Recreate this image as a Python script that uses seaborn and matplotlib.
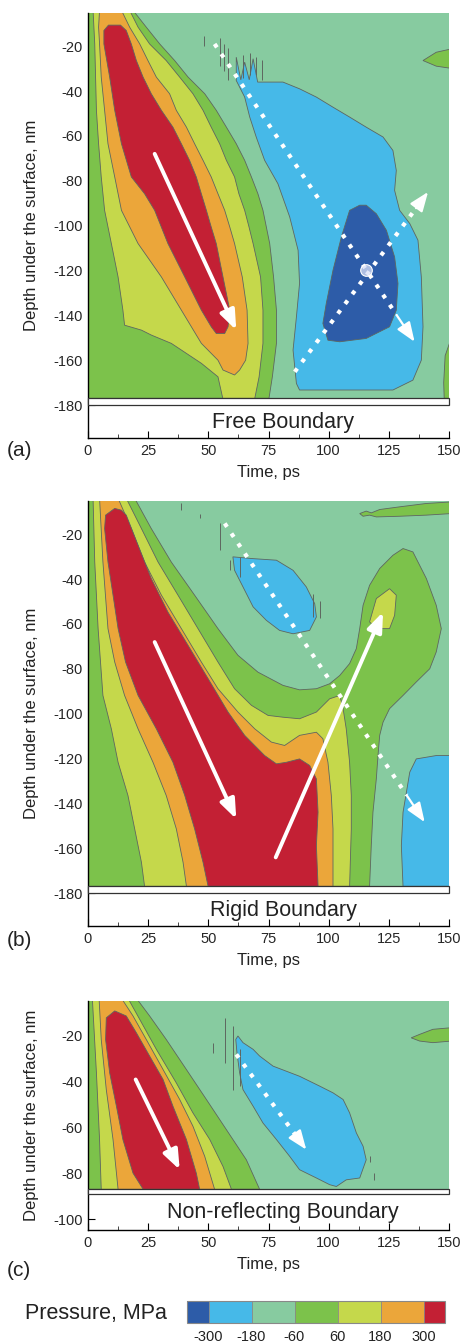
import matplotlib
matplotlib.use("Agg")
import matplotlib.pyplot as plt
import matplotlib as mpl
import seaborn as sns
from matplotlib.colors import ListedColormap, BoundaryNorm
from matplotlib.patches import Rectangle
from matplotlib.ticker import MultipleLocator

sns.set_theme(style="white")
plt.rcParams['font.family'] = ['Liberation Sans', 'DejaVu Sans']
plt.rcParams['axes.unicode_minus'] = False

# pressure classes (MPa) and their colours
levels = [-360, -300, -180, -60, 60, 180, 300, 360]
tick_levels = [-300, -180, -60, 60, 180, 300]
level_colors = ['#2d5ca8', '#46b9e8', '#87cba0', '#7cc24b', '#c5d84b', '#eba63a', '#c32034']
DBLUE, LBLUE, MINT, GREEN, YGREEN, ORANGE, RED = range(7)

# ---------------- (a) free boundary: contour outlines (time ps, depth nm) ----------------
a_green_t = [-1, 18.7, 24.2, 29.8, 36.0, 41.6, 48.5, 53.3, 57.5, 61.6, 65.1, 67.9, 70.6, 72.7, 74.1, 75.5, 77.1, 78.3, 78.3, 76.6, 75.2, -1]
a_green_d = [-4, -4, -11.5, -19.0, -26.4, -33.8, -41.2, -48.6, -56.1, -63.5, -70.9, -78.3, -85.8, -93.2, -100.6, -108.0, -122.9, -137.7, -152.5, -167.4, -177, -177]

a_yg_t = [2.1, 2.8, 3.5, 4.4, 5.5, 6.9, 9.7, 12.5, 14.5, 15.2, 22.2, 26.3, 34.6, 47.1, 54.0, 56.0,
          69.3, 71.1, 72.7, 72.7, 71.7, 68.6, 66.9, 65.1, 62.7, 60.9, 57.5, 54.7, 51.2, 47.8, 43.6, 38.1, 32.5, 25.6, 20.8, 17.3]
a_yg_d = [-4, -19.0, -48.6, -63.5, -78.3, -93.2, -108.0, -122.9, -137.7, -144.4, -146.6, -148.8, -152.5, -161.4, -167.4, -177,
          -177, -167.4, -152.5, -137.7, -122.9, -108.0, -100.6, -93.2, -85.8, -78.3, -70.9, -63.5, -56.1, -48.6, -41.2, -33.8, -26.4, -19.0, -11.5, -4]

a_orange_t = [4.8, 4.4, 4.8, 5.5, 6.9, 8.3, 11.1, 13.9, 20.8, 30.5, 38.8, 47.1, 54.0, 56.1, 60.9,
              63.0, 65.5, 66.5, 66.1, 64.1, 60.9, 58.9, 56.8, 54.0, 51.2, 47.8, 44.3, 40.9, 36.7, 33.9, 28.4, 24.9, 21.5, 17.3, 13.9]
a_orange_d = [-4, -11.5, -19.0, -33.8, -48.6, -63.5, -78.3, -93.2, -108.0, -122.9, -137.7, -152.5, -160.0, -164.4, -166.6,
              -164.4, -160.0, -152.5, -137.7, -122.9, -108.0, -100.6, -93.2, -85.8, -78.3, -70.9, -63.5, -56.1, -48.6, -41.2, -33.8, -26.4, -19.0, -11.5, -4]

a_red_t = [8.5, 6.6, 6.6, 9.0, 11.1, 13.9, 18.0, 23.5, 27.7, 33.2, 40.2, 47.1, 51.2, 53.3,
           56.8, 58.2, 58.9, 57.5, 56.1, 53.3, 51.2, 49.2, 47.1, 45.0, 42.2, 38.8, 35.3, 30.5, 26.3, 22.9, 20.1, 18.0, 15.9, 13.5]
a_red_d = [-10.6, -13.0, -19.0, -33.8, -48.6, -63.5, -78.3, -85.8, -93.2, -108.0, -122.9, -137.7, -145.1, -148.1,
           -148.1, -145.1, -137.7, -130.3, -122.9, -108.0, -100.6, -93.2, -85.8, -78.3, -70.9, -63.5, -56.1, -48.6, -41.2, -33.8, -26.4, -19.0, -13.0, -10.6]

a_lblue_t = [61.6, 65.1, 67.2, 69.9, 73.4, 78.9, 83.8, 87.3, 87.9, 86.6, 85.2, 86.6, 87.9,
             126.7, 135.0, 138.5, 139.2, 138.5, 137.1, 133.7, 129.5, 127.4, 128.1, 126.7, 122.6, 115.6, 108.7,
             101.8, 94.9, 87.9, 81.0, 70.5, 68.6, 67.0, 65.1, 63.5, 61.6]
a_lblue_d = [-35.3, -42.7, -51.6, -60.5, -70.9, -81.3, -96.1, -111.0, -125.8, -140.7, -155.5, -170.4, -173.3,
             -173.3, -168.9, -160.0, -145.1, -122.9, -106.5, -99.1, -93.2, -84.3, -75.4, -66.5, -60.5, -56.1, -51.6,
             -47.2, -42.7, -39.0, -36.0, -36.0, -25.6, -35.0, -27.1, -35.0, -24.9]

a_dblue_t = [112.9, 108.7, 105.3, 101.8, 99.0, 97.6, 99.7, 104.6, 115.6, 125.3, 128.1, 128.8, 127.4, 124.0, 119.8, 115.6]
a_dblue_d = [-90.9, -93.2, -105.0, -119.9, -134.7, -143.6, -151.1, -151.8, -150.3, -145.1, -137.7, -125.8, -114.0, -102.1, -94.7, -90.9]

a_gblob1_t = [139.2, 144.7, 151, 151, 144.7]
a_gblob1_d = [-26.4, -22.7, -21.2, -29.9, -28.9]
a_gblob2_t = [151, 148.4, 147.8, 148.0, 151]
a_gblob2_d = [-150.0, -158.0, -170.0, -177, -177]

# thin noisy contour fragments next to the tensile zone
a_spike_t = [48.2, 54.7, 56.5, 58.3, 64.5, 67.5, 70.0, 72.5]
a_spike_top = [-15.5, -16.5, -19.0, -21.0, -24.0, -23.0, -25.0, -26.0]
a_spike_bot = [-20.0, -29.0, -31.0, -35.0, -34.0, -33.0, -33.0, -35.0]

# ---------------- (b) rigid boundary ----------------
b_green_t = [-1, 19.4, 26.3, 34.6, 44.3, 54.0, 62.3, 70.6, 81.0, 87.9, 94.9, 100.4, 104.6, 108.7, 111.5, 112.9, 114.3,
             117.0, 121.2, 126.7, 130.9, 135.0, 140.6, 144.7, 146.8, 144.7, 142.0, 136.4, 130.9, 125.3, 122.6, 121.2,
             120.5, 119.8, 118.4, 117.7, 117.0, -1]
b_green_d = [-4, -4, -17.5, -32.4, -47.2, -62.1, -74.0, -81.5, -87.4, -89.4, -88.9, -86.7, -83.0, -77.7, -71.0, -62.1, -51.7,
             -42.8, -35.3, -29.4, -26.4, -27.9, -39.8, -51.7, -62.1, -72.5, -80.0, -85.9, -91.9, -97.8, -103.8, -109.7,
             -118.7, -129.1, -144.0, -158.9, -177, -177]

b_yg_t = [2.1, 2.8, 4.2, 6.2, 9.7, 12.5, 16.6, 19.4, 22.2, 23.5, 108.7, 109.4, 109.4, 108.7, 107.3, 106.0, 104.6,
          100.4, 94.9, 87.9, 81.0, 74.8, 67.9, 60.9, 54.0, 45.7, 37.4, 29.1, 22.2, 15.9]
b_yg_d = [-4, -32.4, -62.1, -91.9, -106.8, -121.7, -136.5, -151.4, -166.3, -177, -177, -151.4, -136.5, -121.7, -106.8, -97.8, -91.9,
          -93.4, -99.3, -102.3, -101.6, -100.8, -96.3, -88.9, -77.0, -62.1, -47.2, -32.4, -17.5, -4]

b_orange_t = [4.8, 6.2, 8.3, 11.1, 15.2, 20.8, 27.0, 32.5, 36.7, 39.5, 40.9, 101.8, 101.8, 101.1, 99.7, 97.6, 94.9,
              87.9, 81.7, 76.2, 69.3, 62.3, 54.0, 47.1, 38.8, 30.5, 23.5, 18.0, 12.5]
b_orange_d = [-4, -32.4, -62.1, -77.0, -91.9, -106.8, -121.7, -136.5, -151.4, -166.3, -177, -177, -151.4, -136.5, -121.7, -111.2, -108.3,
              -109.7, -114.2, -112.7, -106.8, -99.3, -88.9, -77.0, -62.1, -47.2, -32.4, -17.5, -4]

b_red_t = [11.1, 7.3, 6.9, 8.3, 10.4, 12.5, 15.6, 20.8, 28.4, 35.3, 40.2, 44.3, 47.8, 49.9, 95.6, 94.9, 95.6, 94.9,
           92.1, 87.9, 82.4, 78.3, 73.4, 65.1, 58.2, 49.9, 41.6, 33.2, 26.3, 20.8, 15.9, 13.9]
b_red_d = [-8.5, -11.5, -17.5, -32.4, -47.2, -62.1, -77.0, -91.9, -106.8, -121.7, -136.5, -151.4, -166.3, -177, -177, -158.9, -144.0, -129.1,
           -123.1, -120.2, -121.7, -122.4, -118.7, -109.7, -99.3, -84.4, -69.6, -54.7, -39.8, -24.9, -11.5, -9.3]

b_lblue1_t = [60.2, 68.6, 78.3, 85.2, 90.7, 94.2, 94.9, 92.1, 85.2, 79.6, 74.1, 68.6, 64.4, 60.9]
b_lblue1_d = [-30.1, -30.9, -31.6, -36.1, -43.5, -51.0, -56.9, -62.9, -64.4, -62.9, -58.4, -52.4, -43.5, -36.1]
b_lblue2_t = [136.4, 144.7, 151, 151, 130.9, 130.2, 130.9, 133.7]
b_lblue2_d = [-120.2, -118.7, -118.7, -177, -177, -158.9, -144.0, -126.1]
b_gblob_t = [112.9, 115.6, 117.7, 121.2, 129.5, 140.6, 151, 151, 140.6, 129.5, 119.8, 117.0, 114.3]
b_gblob_d = [-10.8, -9.7, -10.5, -9.0, -7.8, -6.3, -5.6, -10.8, -11.5, -12.0, -12.3, -11.5, -12.0]
b_ygblob_t = [117.0, 119.8, 125.3, 128.1, 127.4, 125.3, 119.8]
b_ygblob_d = [-59.1, -48.7, -44.3, -47.2, -56.2, -62.1, -62.1]

b_spike_t = [38.8, 46.4, 54.7, 58.9, 63.0, 93.5, 96.3]
b_spike_top = [-6.0, -11.0, -15.0, -31.6, -30.0, -46.5, -50.0]
b_spike_bot = [-9.0, -13.0, -27.0, -36.0, -39.0, -57.0, -57.5]

# ---------------- (c) non-reflecting boundary ----------------
c_green_t = [-1, 20.1, 25.6, 32.5, 40.9, 49.2, 57.5, 65.8, 71.3, -1]
c_green_d = [-4, -4, -11.7, -21.9, -35.0, -48.0, -61.1, -74.2, -87, -87]
c_yg_t = [1.8, 3.5, 4.8, 5.5, 59.6, 56.1, 50.6, 43.6, 36.7, 28.4, 21.5, 16.6]
c_yg_d = [-4, -36.4, -65.4, -87, -87, -77.1, -65.4, -53.8, -40.8, -26.2, -13.2, -4]
c_orange_t = [4.6, 5.5, 7.6, 10.4, 12.5, 52.6, 48.5, 43.6, 38.1, 31.2, 24.2, 18.7, 13.9]
c_orange_d = [-4, -21.9, -43.7, -65.4, -87, -87, -72.7, -59.6, -48.0, -35.0, -21.9, -11.7, -4]
c_red_t = [11.1, 7.6, 7.3, 9.0, 11.8, 14.5, 18.7, 22.9, 46.4, 45.0, 40.9, 35.3, 31.2, 25.6, 20.1, 15.9]
c_red_d = [-9.5, -12.5, -21.9, -36.4, -50.9, -65.4, -80.0, -87, -87, -80.0, -65.4, -50.9, -39.3, -29.1, -19.0, -11.7]
c_lblue_t = [62.3, 64.4, 68.6, 71.3, 76.9, 82.4, 87.9, 96.3, 101.8, 106.0, 108.7, 111.5, 114.3, 115.6, 112.9, 107.3,
             103.2, 100.4, 94.9, 87.9, 83.8, 78.3, 72.7, 68.6, 64.4, 63.0, 61.9, 61.4]
c_lblue_d = [-20.4, -23.3, -26.2, -29.1, -33.5, -35.7, -37.9, -42.2, -45.1, -48.0, -53.8, -62.5, -68.3, -74.2, -82.1, -82.9,
             -85.8, -85.0, -82.1, -78.5, -72.7, -65.4, -58.2, -50.9, -43.7, -36.4, -27.7, -21.9]
c_gblob_t = [134.3, 137.8, 143.3, 151, 151, 143.3, 137.8]
c_gblob_d = [-21.2, -19.7, -17.5, -16.8, -22.6, -23.3, -22.6]

c_spike_t = [51.9, 56.8, 60.2, 63.0, 117.0, 119.0]
c_spike_top = [-23.3, -12.5, -16.0, -26.0, -72.7, -80.0]
c_spike_bot = [-27.7, -32.0, -43.7, -42.0, -75.0, -83.0]

# arrows: (t0, d0, t1, d1)
a_solid = [(27.7, -68.0, 61.6, -146.6)]
a_dotted = [(52.6, -19.0, 135.7, -151.8), (85.9, -165.2, 141.3, -85.0)]
a_sphere = (115.6, -119.9)
b_solid = [(27.7, -68.1, 61.6, -147.0), (78.0, -164.1, 122.6, -54.7)]
b_dotted = [(56.8, -15.2, 139.9, -148.4)]
c_solid = [(19.8, -39.3, 38.1, -78.5)]
c_dotted = [(61.6, -28.4, 90.7, -69.8)]

x_ticks = [0, 25, 50, 75, 100, 125, 150]
yticks_ab = [-20, -40, -60, -80, -100, -120, -140, -160, -180]
yticks_c = [-20, -40, -60, -80, -100]

W, H = 463, 1343
fig = plt.figure(figsize=(W / 100, H / 100), dpi=100)
fig.patch.set_facecolor('white')

edge = '#5e6660'


def region(ax, t, d, k):
    ax.fill(t, d, facecolor=level_colors[k], edgecolor=edge, lw=0.6, zorder=1)


def spikes(ax, t, top, bot):
    ax.vlines(t, bot, top, color=edge, lw=0.7, zorder=1.5)


def solid_arrow(ax, t0, d0, t1, d1):
    ax.annotate('', xy=(t1, d1), xytext=(t0, d0),
                arrowprops=dict(arrowstyle='-|>,head_length=0.9,head_width=0.35', color='white',
                                lw=2.8, mutation_scale=13, shrinkA=0, shrinkB=0), zorder=4)


def dotted_arrow(ax, t0, d0, t1, d1):
    tm, dm = t1 - 0.09 * (t1 - t0), d1 - 0.09 * (d1 - d0)
    ax.plot([t0, tm], [d0, dm], color='white', lw=3, linestyle=(0, (1, 1.9)),
            dash_capstyle='butt', zorder=4)
    ax.annotate('', xy=(t1, d1), xytext=(tm, dm),
                arrowprops=dict(arrowstyle='-|>,head_length=0.9,head_width=0.35', color='white',
                                lw=1.6, mutation_scale=13, shrinkA=0, shrinkB=0), zorder=4)


def panel(rect, ylim, yticks, field_bottom, bar_h, text, text_d):
    ax = fig.add_axes(rect)
    ax.set_facecolor('white')
    ax.fill([-1, 151, 151, -1], [field_bottom, field_bottom, -4, -4], color=level_colors[MINT], lw=0, zorder=0.5)
    ax.set_xlim(0, 150)
    ax.set_ylim(ylim, -5.2)
    ax.set_xticks(x_ticks)
    ax.set_yticks(yticks)
    ax.set_yticklabels([str(v) for v in yticks])
    ax.xaxis.set_minor_locator(MultipleLocator(12.5))
    ax.tick_params(axis='both', which='major', direction='in', length=5, width=0.8,
                   color='black', labelsize=10.5, pad=4, bottom=True, left=True)
    ax.tick_params(axis='x', which='minor', direction='in', length=3, width=0.6, bottom=True)
    for s in ['top', 'right']:
        ax.spines[s].set_visible(False)
    for s in ['left', 'bottom']:
        ax.spines[s].set_color('black')
        ax.spines[s].set_linewidth(1.0)
    ax.add_patch(Rectangle((0, field_bottom - bar_h), 150, bar_h, facecolor='white',
                           edgecolor='#333333', lw=0.9, zorder=5, clip_on=False))
    ax.text(81, text_d, text, ha='center', va='center', fontsize=15.5, color='#222222', zorder=6)
    ax.set_xlabel('Time, ps', fontsize=12, labelpad=5, color='#222222')
    ax.set_ylabel('Depth under the surface, nm', fontsize=12, labelpad=10, color='#222222')
    ax.grid(False)
    return ax


# panel (a)
ax_a = panel([88 / W, 1 - 438 / H, 361 / W, 425 / H], -194.7, yticks_ab, -177, 3.0, 'Free Boundary', -188)
region(ax_a, a_green_t, a_green_d, GREEN)
region(ax_a, a_yg_t, a_yg_d, YGREEN)
region(ax_a, a_orange_t, a_orange_d, ORANGE)
region(ax_a, a_red_t, a_red_d, RED)
region(ax_a, a_lblue_t, a_lblue_d, LBLUE)
region(ax_a, a_dblue_t, a_dblue_d, DBLUE)
region(ax_a, a_gblob1_t, a_gblob1_d, GREEN)
region(ax_a, a_gblob2_t, a_gblob2_d, GREEN)
spikes(ax_a, a_spike_t, a_spike_top, a_spike_bot)
for seg in a_solid:
    solid_arrow(ax_a, *seg)
for seg in a_dotted:
    dotted_arrow(ax_a, *seg)
ax_a.scatter([a_sphere[0]], [a_sphere[1]], s=70, facecolor=(0.85, 0.88, 0.97, 0.75),
             edgecolor='white', lw=0.8, zorder=5)

# panel (b)
ax_b = panel([88 / W, 1 - 926 / H, 361 / W, 425 / H], -194.7, yticks_ab, -177, 3.0, 'Rigid Boundary', -188)
region(ax_b, b_green_t, b_green_d, GREEN)
region(ax_b, b_yg_t, b_yg_d, YGREEN)
region(ax_b, b_orange_t, b_orange_d, ORANGE)
region(ax_b, b_red_t, b_red_d, RED)
region(ax_b, b_lblue1_t, b_lblue1_d, LBLUE)
region(ax_b, b_lblue2_t, b_lblue2_d, LBLUE)
region(ax_b, b_gblob_t, b_gblob_d, GREEN)
region(ax_b, b_ygblob_t, b_ygblob_d, YGREEN)
spikes(ax_b, b_spike_t, b_spike_top, b_spike_bot)
for seg in b_solid:
    solid_arrow(ax_b, *seg)
for seg in b_dotted:
    dotted_arrow(ax_b, *seg)

# panel (c)
ax_c = panel([88 / W, 1 - 1230 / H, 361 / W, 229 / H], -104.7, yticks_c, -87, 2.1, 'Non-reflecting Boundary', -97)
region(ax_c, c_green_t, c_green_d, GREEN)
region(ax_c, c_yg_t, c_yg_d, YGREEN)
region(ax_c, c_orange_t, c_orange_d, ORANGE)
region(ax_c, c_red_t, c_red_d, RED)
region(ax_c, c_lblue_t, c_lblue_d, LBLUE)
region(ax_c, c_gblob_t, c_gblob_d, GREEN)
spikes(ax_c, c_spike_t, c_spike_top, c_spike_bot)
for seg in c_solid:
    solid_arrow(ax_c, *seg)
for seg in c_dotted:
    dotted_arrow(ax_c, *seg)

# panel letters
fig.text(7 / W, 1 - 451 / H, '(a)', fontsize=15, va='center', ha='left', color='#222222')
fig.text(7 / W, 1 - 940 / H, '(b)', fontsize=15, va='center', ha='left', color='#222222')
fig.text(7 / W, 1 - 1270 / H, '(c)', fontsize=15, va='center', ha='left', color='#222222')

# colour bar
cax = fig.add_axes([187 / W, 1 - 1323 / H, 258 / W, 22 / H])
cmap = ListedColormap(level_colors)
norm = BoundaryNorm(levels, cmap.N)
cb = fig.colorbar(mpl.cm.ScalarMappable(norm=norm, cmap=cmap), cax=cax, orientation='horizontal',
                  boundaries=levels, spacing='proportional', ticks=tick_levels, drawedges=True)
cb.outline.set_edgecolor('#888888')
cb.outline.set_linewidth(0.8)
cb.dividers.set_color('#888888')
cb.dividers.set_linewidth(0.6)
cb.ax.tick_params(length=0, labelsize=10.5, pad=5, colors='#222222')
cb.ax.minorticks_off()
cb.ax.set_xticklabels([str(v) for v in tick_levels])
fig.text(25 / W, 1 - 1313 / H, 'Pressure, MPa', fontsize=15.5, va='center', ha='left', color='#222222')

fig.savefig('out.png', dpi=100, facecolor='white')
